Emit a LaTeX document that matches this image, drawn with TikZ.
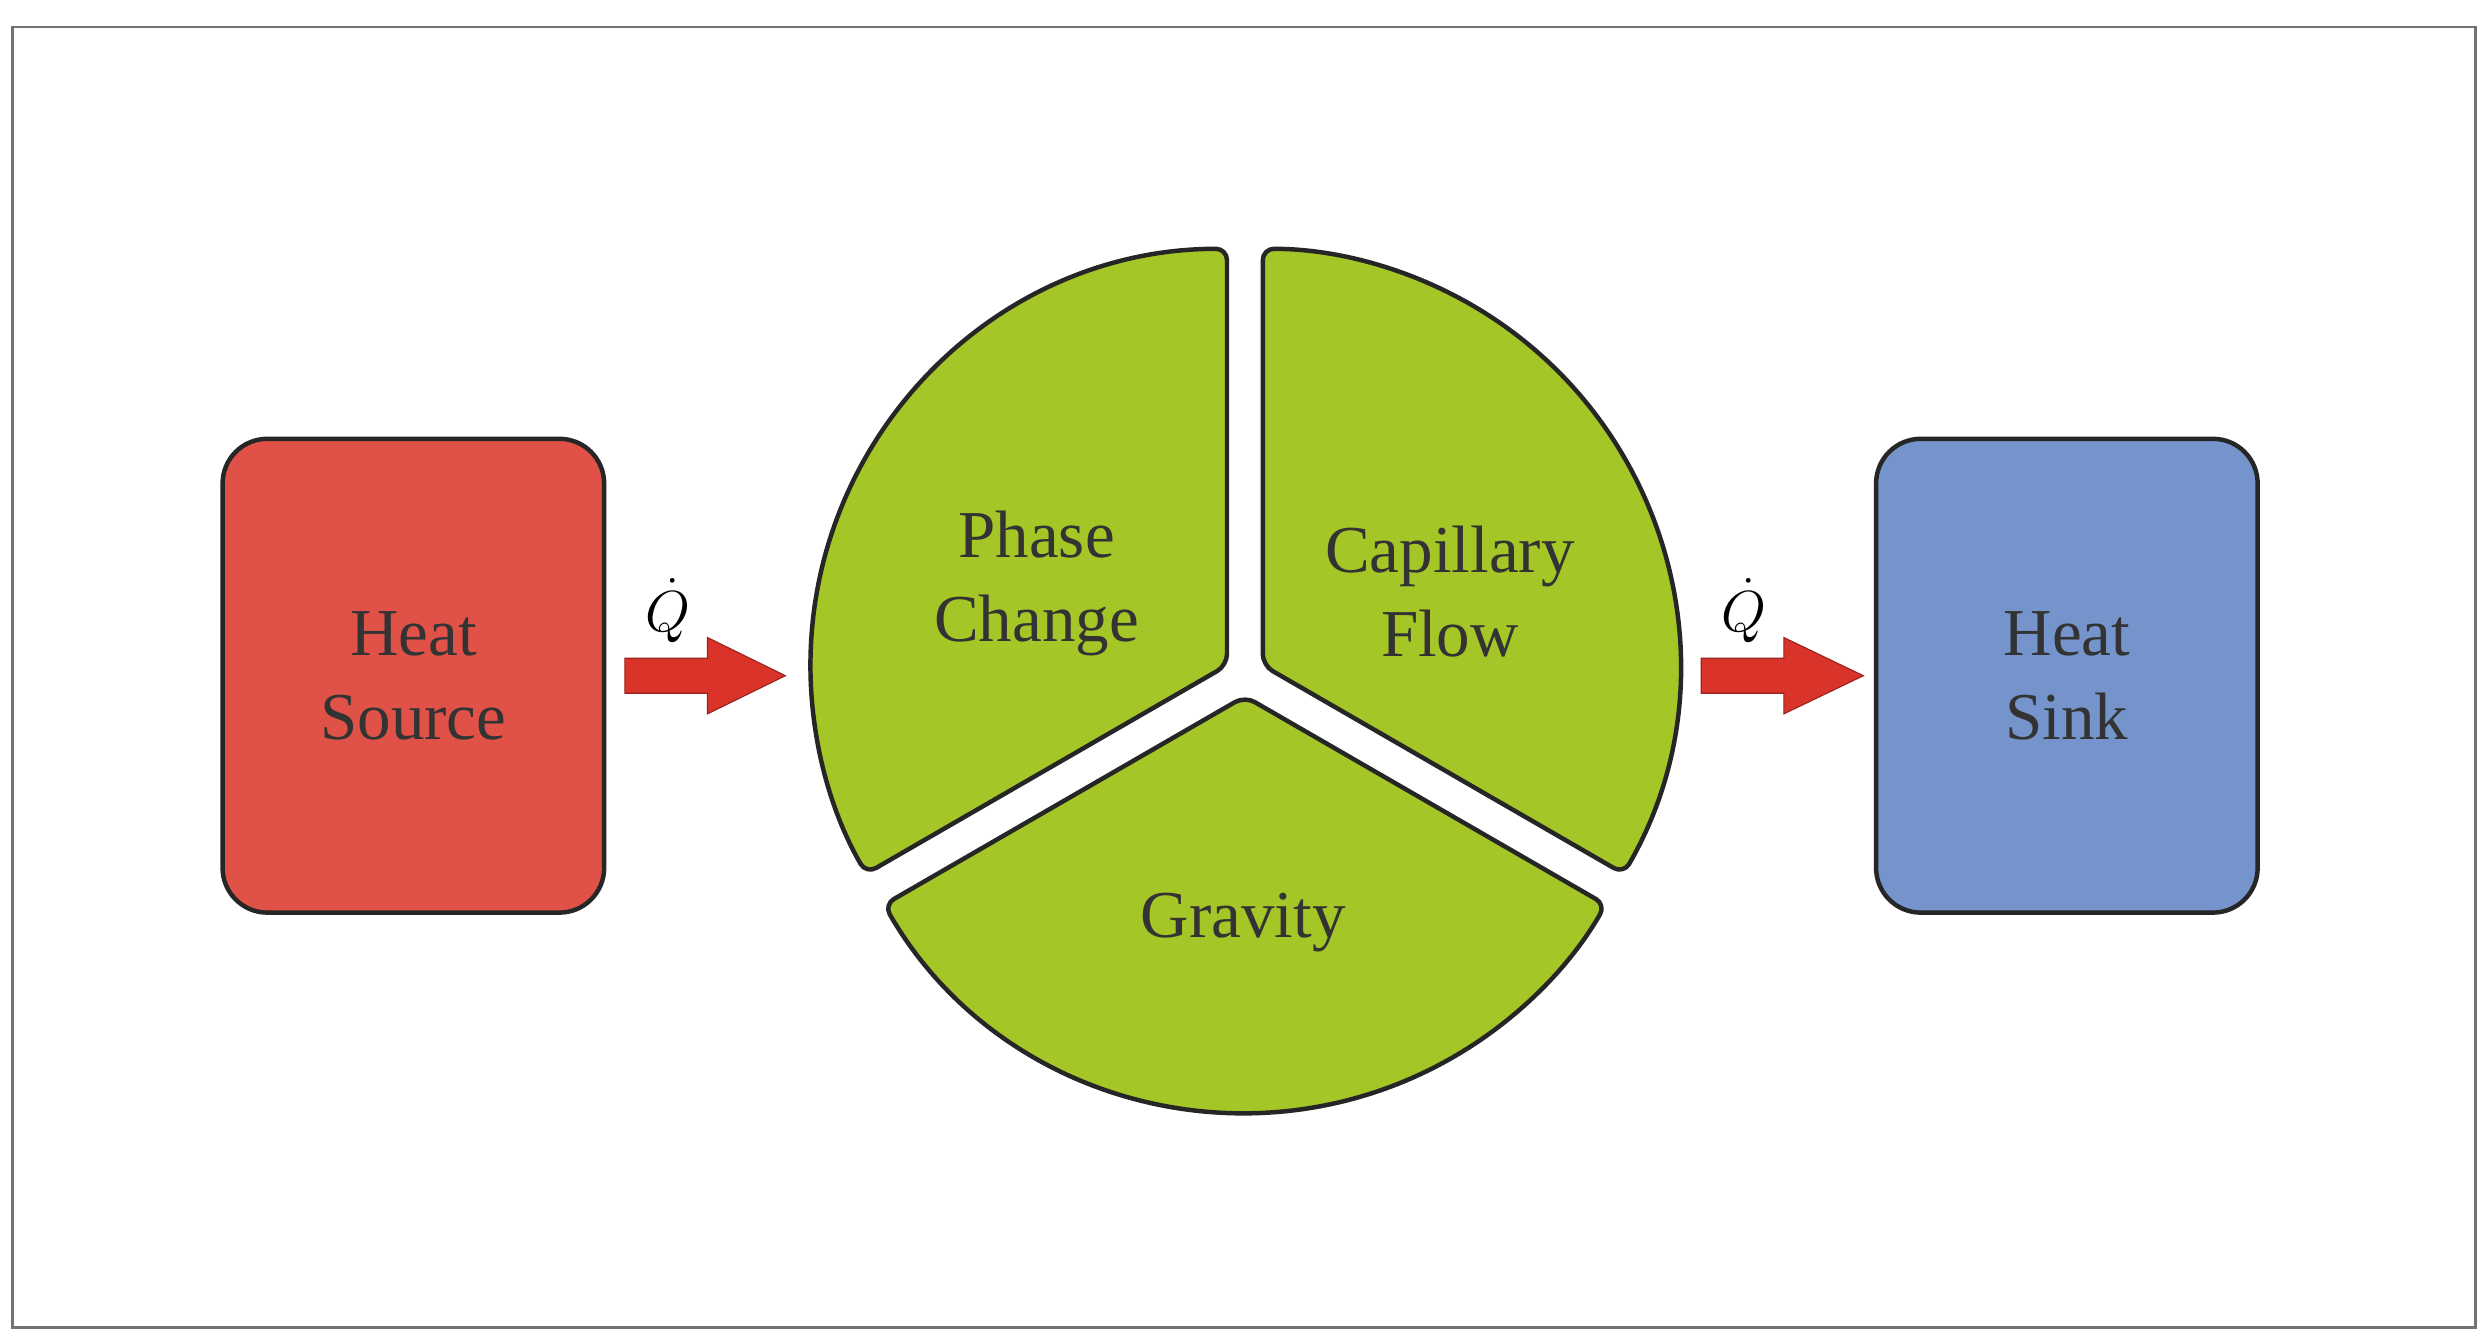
\documentclass[tikz,border=0pt]{standalone}
\usepackage{fontspec}
\setmainfont{Liberation Serif}
\begin{document}
\begin{tikzpicture}[x=0.02cm,y=-0.02cm,
  box/.style={draw=black!85,line width=1.6pt,rounded corners=16pt},
  sec/.style={draw=black!85,line width=1.6pt,fill=secgreen,rounded corners=4pt},
  lbl/.style={align=center,font=\fontsize{24}{30}\selectfont,text=black!80},
  barrow/.style={fill=arrred,draw=arrred!70!black,line width=0.4pt}]
\definecolor{srcred}{HTML}{E05247}
\definecolor{sinkblue}{HTML}{7494CB}
\definecolor{secgreen}{HTML}{A4C626}
\definecolor{arrred}{HTML}{D9332A}
\useasboundingbox (0,0) rectangle (1563,845);
\draw[black!55,line width=1pt] (8,17) rectangle (1557,835);
\node[box,fill=srcred,minimum width=240*0.02cm,minimum height=298*0.02cm] (src) at (260,425) {};
\node[lbl] at (src) {Heat\\Source};
\node[box,fill=sinkblue,minimum width=240*0.02cm,minimum height=298*0.02cm] (sink) at (1300,425) {};
\node[lbl] at (sink) {Heat\\Sink};
\def\R{262}
\foreach \a/\b in {90/210,-30/90,210/330}{
  \pgfmathsetmacro\m{(\a+\b)/2}
  \begin{scope}[shift={(\m:13*0.02cm)}]
  \draw[sec] (783,425) -- ++(\a:\R*0.02cm) arc[start angle=\a,end angle=\b,radius=\R*0.02cm] -- cycle;
  \end{scope}
}
\node[lbl] (pc) at (652,367) {Phase\\Change};
\node[lbl] (cf) at (912,372) {Capillary\\Flow};
\node[lbl] (gr) at (782,580) {Gravity};
\draw[barrow] (393,414) -- (445,414) -- (445,401) -- (494,425) -- (445,449) -- (445,436) -- (393,436) -- cycle;
\node[font=\fontsize{22}{26}\selectfont,inner sep=0pt] (q1) at (420,384) {$\dot{Q}$};
\draw[barrow] (1070,414) -- (1122,414) -- (1122,401) -- (1172,425) -- (1122,449) -- (1122,436) -- (1070,436) -- cycle;
\node[font=\fontsize{22}{26}\selectfont,inner sep=0pt] (q2) at (1097,384) {$\dot{Q}$};
\end{tikzpicture}
\end{document}
